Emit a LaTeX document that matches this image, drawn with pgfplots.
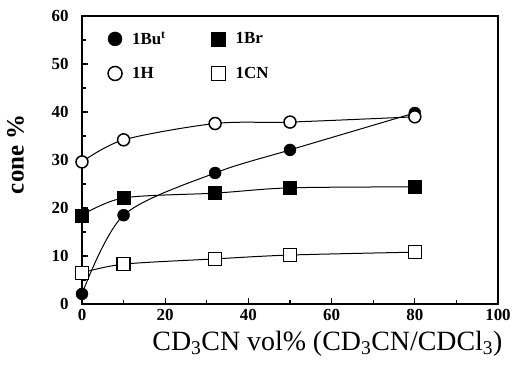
\documentclass[border=0pt]{standalone}
\usepackage{pgfplots}
\pgfplotsset{compat=1.18}
\usepackage{fontspec}
\setmainfont{Liberation Serif}
\begin{document}
\begin{tikzpicture}
\begin{axis}[
  name=ax,
  scale only axis, width=416bp, height=288bp,
  xmin=0, xmax=100, ymin=0, ymax=60,
  xtick={0,20,...,100}, minor xtick={10,30,...,90},
  ytick={0,10,...,60}, minor ytick={5,15,...,55},
  tick align=inside, xtick pos=bottom, ytick pos=left,
  major tick length=6bp, minor tick length=4bp,
  axis line style={line width=1.6bp},
  every tick/.style={line width=1.2bp, black},
  /pgf/number format/assume math mode=true,
  tick label style={font=\fontsize{17}{17}\selectfont\bfseries},
  yticklabel style={xshift=-10bp},
  xticklabel style={yshift=-2bp},
  ylabel={cone \%},
  ylabel style={font=\fontsize{25}{25}\selectfont\bfseries, at={(axis description cs:-0.16,0.52)}, anchor=center},
  xlabel={CD\textsubscript{3}CN vol\% (CD\textsubscript{3}CN/CDCl\textsubscript{3})},
  xlabel style={font=\fontsize{28}{28}\selectfont, at={(axis description cs:0.59,-0.16)}, anchor=base},
  legend columns=2,
  legend style={at={(rel axis cs:0.055,0.96)}, anchor=north west, draw=none, fill=none,
    font=\fontsize{17}{17}\selectfont\bfseries, row sep=17bp,
    /tikz/every odd column/.append style={column sep=8bp},
    /tikz/every even column/.append style={column sep=44bp}},
  legend cell align=left,
  legend image code/.code={\draw[#1, mark size=7bp] plot coordinates {(0.3cm,0cm)};},
]
% fitted curves
\addplot[black, line width=1bp, smooth, forget plot] coordinates {(0,2.1) (10,18.5) (32,27.3) (50,32.1) (80,39.8)};
\addplot[black, line width=1bp, smooth, forget plot] coordinates {(0,18.5) (10,22.1) (32,23.1) (50,24.2) (80,24.4)};
\addplot[black, line width=1bp, smooth, forget plot] coordinates {(0,29.6) (10,34.2) (32,37.6) (50,37.9) (80,39.0)};
\addplot[black, line width=1bp, smooth, forget plot] coordinates {(0,6.5) (10,8.3) (32,9.4) (50,10.2) (80,10.8)};
% markers
\addplot[only marks, mark=*, mark size=6bp, black] coordinates {(0,2.1) (10,18.5) (32,27.3) (50,32.1) (80,39.8)};
\addlegendentry{1Bu\textsuperscript{t}}
\addplot[only marks, mark=square*, mark size=6.5bp, black] coordinates {(0,18.5) (10,22.1) (32,23.1) (50,24.2) (80,24.4)};
\addlegendentry{1Br}
\addplot[only marks, mark=*, mark size=6bp, draw=black, fill=white, line width=1.5bp] coordinates {(0,29.6) (10,34.2) (32,37.6) (50,37.9) (80,39.0)};
\addlegendentry{1H}
\addplot[only marks, mark=square*, mark size=6.5bp, draw=black, fill=white, line width=1.5bp] coordinates {(0,6.5) (10,8.3) (32,9.4) (50,10.2) (80,10.8)};
\addlegendentry{1CN}
\end{axis}
\pgfresetboundingbox
\path[use as bounding box] ([xshift=-82bp,yshift=-62bp]ax.south west) rectangle ([xshift=16bp,yshift=16bp]ax.north east);
\end{tikzpicture}
\end{document}
